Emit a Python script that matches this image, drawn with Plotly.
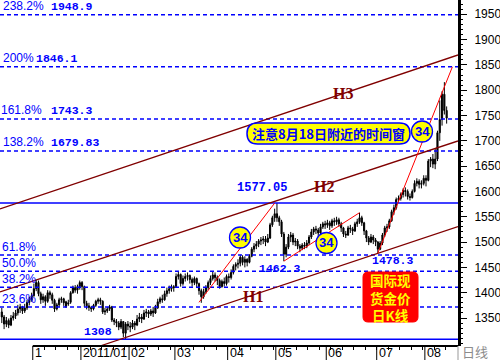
import plotly.graph_objects as go

# ---------------- data ----------------
# bar index -> month boundary labels
month_idx = [14, 35, 56, 76, 99, 120, 142, 164, 185]
month_lbl = ["1", "2011/01", "02", "03", "04", "05", "06", "07", "08"]

opens = [1362, 1352, 1338, 1345, 1336, 1350, 1354, 1360, 1368, 1372, 1364, 1370, 1381, 1386,
         1394, 1408, 1420, 1398, 1386, 1392, 1383, 1400, 1396, 1385, 1368, 1376, 1386, 1388,
         1372, 1380, 1381, 1400, 1410, 1405, 1412,
         1420, 1412, 1379, 1374, 1371, 1368, 1375, 1383, 1386, 1383, 1362, 1364, 1368, 1372,
         1346, 1343, 1340, 1332, 1343, 1320, 1338,
         1334, 1332, 1340, 1336, 1348, 1352, 1348, 1360, 1362, 1358, 1364, 1360, 1370, 1382,
         1388, 1386, 1398, 1404, 1408, 1412,
         1412, 1432, 1436, 1418, 1428, 1432, 1434, 1426, 1420, 1428, 1418, 1404, 1392, 1402,
         1410, 1420, 1428, 1435, 1430, 1424, 1412, 1422, 1418,
         1432, 1430, 1440, 1452, 1456, 1458, 1470, 1460, 1466, 1460, 1472, 1486, 1492, 1496,
         1502, 1504, 1506, 1500, 1508, 1534, 1548,
         1556, 1548, 1540, 1516, 1476, 1490, 1510, 1514, 1500, 1502, 1492, 1488, 1494, 1492,
         1498, 1510, 1520, 1526, 1524, 1518, 1530, 1536,
         1534, 1538, 1532, 1542, 1540, 1544, 1536, 1528, 1516, 1514, 1528, 1526, 1522, 1536,
         1540, 1548, 1538, 1522, 1508, 1500, 1510, 1504,
         1500, 1486, 1498, 1514, 1528, 1530, 1542, 1560, 1568, 1584, 1586, 1594, 1602, 1600,
         1590, 1588, 1600, 1616, 1620, 1614, 1616,
         1626, 1622, 1660, 1664, 1654, 1664, 1716, 1742, 1792, 1760]
highs = [1370, 1356, 1352, 1349, 1356, 1362, 1366, 1376, 1378, 1374, 1378, 1386, 1392, 1400,
         1418, 1425, 1424, 1402, 1398, 1395, 1405, 1404, 1400, 1388, 1380, 1390, 1392, 1390,
         1384, 1386, 1403, 1414, 1415, 1416, 1424,
         1423, 1414, 1384, 1380, 1374, 1378, 1386, 1390, 1390, 1385, 1370, 1372, 1376, 1374,
         1350, 1348, 1344, 1348, 1344, 1342, 1344,
         1342, 1346, 1344, 1356, 1360, 1358, 1366, 1368, 1366, 1368, 1372, 1376, 1388, 1392,
         1396, 1404, 1410, 1414, 1416, 1415,
         1438, 1441, 1438, 1434, 1438, 1440, 1436, 1430, 1432, 1430, 1420, 1408, 1408, 1415,
         1424, 1434, 1441, 1440, 1434, 1428, 1426, 1430, 1436,
         1438, 1446, 1456, 1460, 1466, 1475, 1474, 1472, 1468, 1476, 1490, 1498, 1502, 1506,
         1510, 1512, 1512, 1516, 1538, 1552, 1566,
         1577.05, 1552, 1544, 1520, 1496, 1516, 1520, 1518, 1508, 1506, 1496, 1498, 1500, 1504,
         1514, 1526, 1530, 1532, 1528, 1536, 1540, 1542,
         1544, 1542, 1546, 1548, 1550, 1548, 1540, 1530, 1522, 1532, 1534, 1530, 1540, 1546,
         1558, 1552, 1540, 1524, 1512, 1516, 1514, 1508,
         1502, 1502, 1518, 1532, 1536, 1546, 1564, 1574, 1588, 1592, 1598, 1606, 1608, 1604,
         1596, 1604, 1622, 1626, 1624, 1622, 1632,
         1632, 1664, 1668, 1674, 1684, 1720, 1780, 1798, 1816, 1768]
lows = [1340, 1328, 1332, 1330, 1334, 1345, 1348, 1355, 1360, 1358, 1360, 1366, 1375, 1382,
        1392, 1403, 1393, 1378, 1380, 1374, 1380, 1388, 1378, 1362, 1365, 1372, 1380, 1374,
        1370, 1374, 1378, 1398, 1400, 1398, 1406,
        1405, 1372, 1367, 1364, 1362, 1365, 1372, 1378, 1376, 1358, 1356, 1360, 1364, 1342,
        1336, 1332, 1326, 1328, 1312, 1308, 1326,
        1322, 1328, 1326, 1334, 1342, 1340, 1346, 1352, 1350, 1354, 1352, 1358, 1368, 1378,
        1380, 1384, 1392, 1398, 1402, 1402,
        1410, 1426, 1412, 1414, 1422, 1424, 1418, 1412, 1415, 1410, 1396, 1380, 1388, 1398,
        1405, 1415, 1424, 1422, 1415, 1408, 1410, 1412, 1414,
        1420, 1426, 1436, 1444, 1448, 1452, 1454, 1450, 1452, 1458, 1470, 1480, 1486, 1490,
        1494, 1496, 1492, 1498, 1506, 1530, 1540,
        1540, 1532, 1510, 1462.3, 1470, 1486, 1500, 1494, 1492, 1486, 1480, 1484, 1486, 1488,
        1494, 1506, 1514, 1516, 1510, 1514, 1526, 1526,
        1528, 1524, 1528, 1532, 1534, 1530, 1520, 1510, 1508, 1512, 1518, 1514, 1520, 1530,
        1536, 1532, 1514, 1500, 1494, 1498, 1496, 1492,
        1478.3, 1484, 1494, 1510, 1520, 1526, 1540, 1554, 1564, 1578, 1582, 1588, 1590, 1584,
        1582, 1586, 1598, 1610, 1606, 1606, 1612,
        1610, 1620, 1648, 1646, 1644, 1660, 1700, 1730, 1752, 1734]
closes = [1352, 1338, 1345, 1336, 1350, 1354, 1360, 1368, 1372, 1364, 1370, 1381, 1386, 1394,
          1408, 1420, 1398, 1386, 1392, 1383, 1400, 1396, 1385, 1368, 1376, 1386, 1388, 1380,
          1382, 1378, 1400, 1410, 1405, 1412, 1420,
          1412, 1379, 1374, 1371, 1368, 1375, 1383, 1386, 1383, 1362, 1364, 1368, 1372, 1346,
          1343, 1340, 1332, 1343, 1320, 1338, 1334,
          1332, 1340, 1336, 1348, 1352, 1348, 1360, 1362, 1358, 1364, 1360, 1370, 1382, 1388,
          1386, 1398, 1404, 1408, 1412, 1410,
          1432, 1436, 1418, 1428, 1432, 1434, 1426, 1420, 1428, 1418, 1404, 1392, 1402, 1410,
          1420, 1428, 1435, 1430, 1424, 1412, 1422, 1418, 1432,
          1430, 1440, 1452, 1456, 1458, 1470, 1460, 1466, 1460, 1472, 1486, 1492, 1496, 1502,
          1504, 1506, 1500, 1508, 1534, 1548, 1556,
          1548, 1540, 1516, 1476, 1490, 1510, 1514, 1500, 1502, 1492, 1488, 1494, 1492, 1498,
          1510, 1520, 1526, 1524, 1518, 1530, 1536, 1534,
          1538, 1532, 1542, 1540, 1544, 1536, 1528, 1516, 1514, 1528, 1526, 1522, 1536, 1540,
          1548, 1538, 1522, 1508, 1500, 1510, 1504, 1500,
          1486, 1498, 1514, 1528, 1530, 1542, 1560, 1568, 1584, 1586, 1594, 1602, 1600, 1590,
          1588, 1600, 1616, 1620, 1614, 1616, 1626,
          1622, 1660, 1664, 1654, 1664, 1716, 1742, 1792, 1760, 1745]

# Fibonacci levels
fib_upper_pct = ["238.2%", "200%", "161.8%", "138.2%"]
fib_upper_val = [1948.9, 1846.1, 1743.3, 1679.83]
fib_lower_pct = ["61.8%", "50.0%", "38.2%", "23.6%"]
fib_lower_val = [1474.3, 1442.5, 1410.8, 1371.5]
swing_high = 1577.05
swing_low = 1308
low_may = 1462.3
low_jul = 1478.3

# channel lines (bar index, price)
channels = {
    "H1": [(42.8, 1294.7), (198.95, 1530.4)],
    "H2": [(-0.785, 1401.4), (198.95, 1699.7)],
    "H3": [(-0.785, 1565.4), (198.95, 1869.6)],
}
# thin red trend lines (bar index, price)
red_lines = [
    [(86, 1381), (119, 1577)],
    [(123, 1462.3), (156, 1558)],
    [(164, 1478.3), (196.5, 1846.1)],
]

y_ticks = [1350, 1400, 1450, 1500, 1550, 1600, 1650, 1700, 1750, 1800, 1850, 1900, 1950]

# ---------------- figure ----------------
PW, PH = 458.0, 346.0  # plot area in px


def px(x):
    return x / PW


def py(y):
    return 1 - y / PH


idx = list(range(len(closes)))

fig = go.Figure()
fig.add_trace(go.Candlestick(
    x=idx, open=opens, high=highs, low=lows, close=closes,
    increasing=dict(line=dict(color="black", width=1), fillcolor="black"),
    decreasing=dict(line=dict(color="black", width=1), fillcolor="black"),
    whiskerwidth=0, showlegend=False, hoverinfo="skip",
))

BLUE = "#0000FF"
DRED = "#800000"
shapes = []
annotations = []


def ann(**kw):
    kw.setdefault("xanchor", "center")
    kw.setdefault("yanchor", "middle")
    kw.setdefault("showarrow", False)
    kw.setdefault("borderpad", 0)
    annotations.append(kw)


# horizontal fib lines
for v in fib_upper_val + fib_lower_val:
    shapes.append(dict(type="line", xref="paper", yref="y", x0=0, x1=1, y0=v, y1=v,
                       line=dict(color=BLUE, width=1.5, dash="4px,3px")))
for v in [swing_high, swing_low]:
    shapes.append(dict(type="line", xref="paper", yref="y", x0=0, x1=1, y0=v, y1=v,
                       line=dict(color=BLUE, width=1.5)))

# channel lines
for name, pts in channels.items():
    (x0, y0), (x1, y1) = pts
    shapes.append(dict(type="line", xref="x", yref="y", x0=x0, y0=y0, x1=x1, y1=y1,
                       line=dict(color=DRED, width=1.3)))
for pts in red_lines:
    (x0, y0), (x1, y1) = pts
    shapes.append(dict(type="line", xref="x", yref="y", x0=x0, y0=y0, x1=x1, y1=y1,
                       line=dict(color="#FF0000", width=1)))

# bottom axis line (starts at Dec tick)
shapes.append(dict(type="line", xref="x", yref="paper", x0=month_idx[0] - 0.5, x1=200,
                   y0=0, y1=0, line=dict(color="black", width=2)))
# separator under right axis
shapes.append(dict(type="line", xref="paper", yref="paper", x0=1, x1=1,
                   y0=0, y1=py(360), line=dict(color="#999999", width=1)))
# month ticks
for m in month_idx:
    shapes.append(dict(type="line", xref="x", yref="paper", x0=m - 0.5, x1=m - 0.5,
                       y0=0, y1=py(360), line=dict(color="black", width=1)))


def rounded_rect(x0, y0, x1, y1, r):
    X = px
    Y = py
    return (f"M {X(x0 + r)},{Y(y0)} L {X(x1 - r)},{Y(y0)} Q {X(x1)},{Y(y0)} {X(x1)},{Y(y0 + r)} "
            f"L {X(x1)},{Y(y1 - r)} Q {X(x1)},{Y(y1)} {X(x1 - r)},{Y(y1)} "
            f"L {X(x0 + r)},{Y(y1)} Q {X(x0)},{Y(y1)} {X(x0)},{Y(y1 - r)} "
            f"L {X(x0)},{Y(y0 + r)} Q {X(x0)},{Y(y0)} {X(x0 + r)},{Y(y0)} Z")


# yellow callout
shapes.append(dict(type="path", xref="paper", yref="paper",
                   path=rounded_rect(247, 123, 410, 144, 10.5),
                   fillcolor="#FFFF00", line=dict(color=BLUE, width=1.5)))
ann(x=px(328.5), y=py(133.5), xref="paper", yref="paper",
    text="<b>注意8月18日附近的时间窗</b>",
    font=dict(family="Noto Sans CJK SC", size=13, color=BLUE))
# red info box
shapes.append(dict(type="path", xref="paper", yref="paper",
                   path=rounded_rect(363, 272, 418, 322, 5),
                   fillcolor="#FF0000", line=dict(color="#FF0000", width=1)))
ann(x=px(390.5), y=py(297), xref="paper", yref="paper",
    text="<b>国际现<br>货金价<br>日K线</b>",
    font=dict(family="Noto Sans CJK SC", size=13.5, color="#FFFF00"))

# "34" circles
for cx, cy in [(240, 237.5), (326.5, 243), (422, 131.5)]:
    r = 10.5
    shapes.append(dict(type="circle", xref="paper", yref="paper",
                       x0=px(cx - r), x1=px(cx + r), y0=py(cy + r), y1=py(cy - r),
                       fillcolor="#FFFF00", line=dict(color=BLUE, width=1.3)))
    ann(x=px(cx), y=py(cy), xref="paper", yref="paper", text="<b>34</b>",
        font=dict(family="Liberation Sans", size=13, color=BLUE))

MONO = "Liberation Mono"
SANS = "Liberation Sans"

# upper fib labels
pct_x = [2, 2, 0, 2]
num_x = [50, 35, 50, 50]
for p, v, xa, xb in zip(fib_upper_pct, fib_upper_val, pct_x, num_x):
    ann(x=px(xa), y=v, xref="paper", yref="y", xanchor="left", yanchor="bottom", yshift=1,
        text=p, font=dict(family=SANS, size=12, color=BLUE))
    ann(x=px(xb), y=v, xref="paper", yref="y", xanchor="left", yanchor="bottom", yshift=1,
        text=f"<b>{v:g}</b>", font=dict(family=MONO, size=11.5, color=BLUE))
# lower fib labels
for p, v in zip(fib_lower_pct, fib_lower_val):
    ann(x=px(1), y=v, xref="paper", yref="y", xanchor="left", yanchor="bottom", yshift=0,
        text=p, font=dict(family=SANS, size=12, color=BLUE))

# price labels
ann(x=120, y=swing_high, xref="x", yref="y", yanchor="bottom", xshift=-15, yshift=7,
    text=f"<b>{swing_high:.2f}</b>", font=dict(family=MONO, size=12, color=BLUE))
ann(x=54, y=swing_low, xref="x", yref="y", yanchor="bottom", xshift=-28, yshift=0,
    text=f"<b>{swing_low}</b>", font=dict(family=MONO, size=11.5, color=BLUE))
ann(x=123, y=low_may, xref="x", yref="y", yanchor="top", xshift=-4, yshift=0,
    text=f"<b>{low_may}</b>", font=dict(family=MONO, size=11.5, color=BLUE))
ann(x=164, y=low_jul, xref="x", yref="y", yanchor="top", xshift=15, yshift=0,
    text=f"<b>{low_jul}</b>", font=dict(family=MONO, size=11.5, color=BLUE))

# channel labels
for name, (lx, ly) in zip(["H3", "H2", "H1"], [(343, 93), (324, 186), (253, 296)]):
    ann(x=px(lx), y=py(ly), xref="paper", yref="paper", text=f"<b>{name}</b>",
        font=dict(family="Liberation Serif", size=16, color=DRED))

# month labels
for m, lbl in zip(month_idx, month_lbl):
    ann(x=m - 0.5, y=py(353), xref="x", yref="paper", xanchor="left", xshift=1,
        text=lbl, font=dict(family=SANS, size=12.5, color="black"))
ann(x=px(461), y=py(351), xref="paper", yref="paper", xanchor="left",
    text="日线", font=dict(family="Noto Sans CJK SC", size=13, color="#8C8C8C"))

fig.update_layout(
    width=500, height=360,
    margin=dict(l=0, r=42, t=0, b=14, pad=0),
    paper_bgcolor="white", plot_bgcolor="white",
    shapes=shapes, annotations=annotations,
    showlegend=False,
    xaxis=dict(range=[-0.785, 198.95], showgrid=False, zeroline=False, showline=False,
               showticklabels=False, rangeslider=dict(visible=False),
               tickmode="array", tickvals=[], fixedrange=True,
               minor=dict(tickmode="array", tickvals=[i - 0.5 for i in range(19, 195, 5)],
                          ticks="outside", ticklen=3, tickcolor="black", tickwidth=1)),
    yaxis=dict(side="right", range=[1294.7, 1978.2], showgrid=False, zeroline=False,
               showline=True, linecolor="black", linewidth=3,
               tickmode="array", tickvals=y_ticks, ticks="outside", ticklen=6,
               tickcolor="black", tickwidth=1, ticklabelstandoff=5,
               tickfont=dict(family=SANS, size=12, color="black"),
               minor=dict(dtick=10, ticks="outside", ticklen=2, tickcolor="black"),
               fixedrange=True),
)

fig.write_html("out.html")
